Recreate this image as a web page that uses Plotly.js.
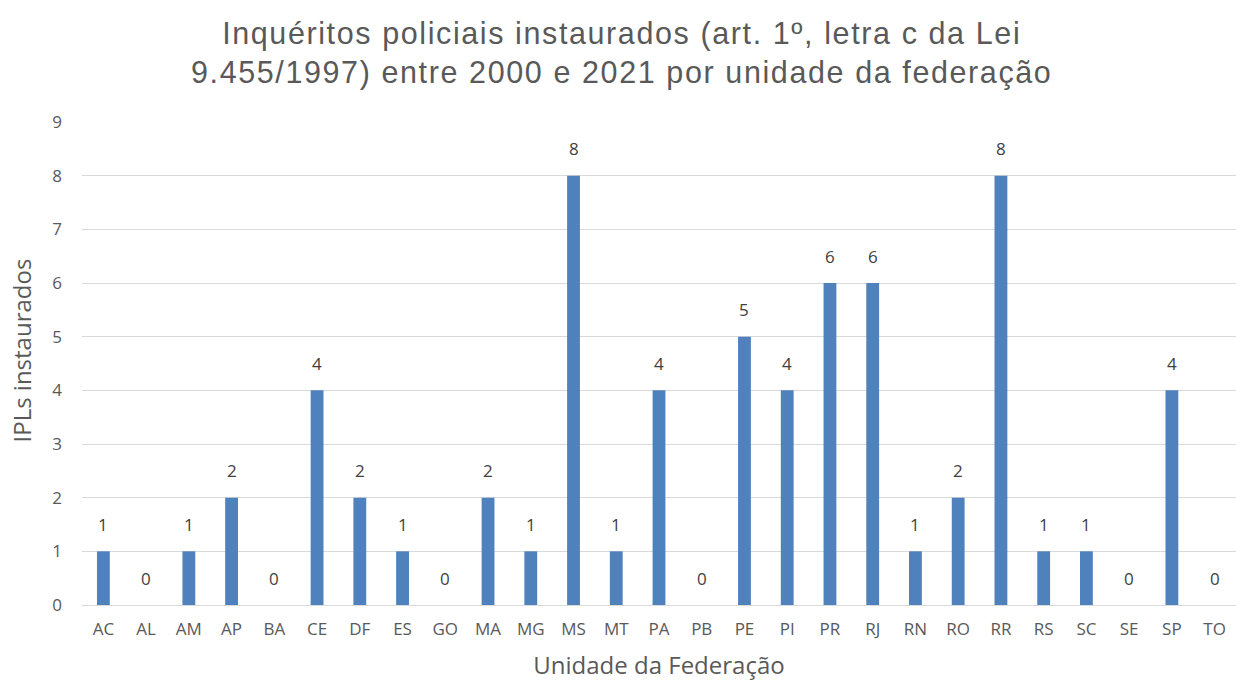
<!DOCTYPE html>
<html><head><meta charset="utf-8">
<script src="https://cdn.plot.ly/plotly-3.0.1.min.js"></script>
<style>html,body{margin:0;padding:0;background:#fff}#chart{width:1236px;height:682px}
#chart .gtitle{letter-spacing:1.6px}</style>
</head><body><div id="chart"></div>
<script>
const categories = ["AC","AL","AM","AP","BA","CE","DF","ES","GO","MA","MG","MS","MT","PA","PB","PE","PI","PR","RJ","RN","RO","RR","RS","SC","SE","SP","TO"];
const ipls = [1,0,1,2,0,4,2,1,0,2,1,8,1,4,0,5,4,6,6,1,2,8,1,1,0,4,0];
const yTicks = [0,1,2,3,4,5,6,7,8,9];

const tickFont = {family:"Open Sans, sans-serif", size:17, color:"#595959"};
const annotations = categories.map((c,i)=>({
  x:c, y:ipls[i], xref:'x', yref:'y', text:String(ipls[i]), showarrow:false,
  yshift:27, yanchor:'middle', font:{family:"Open Sans, sans-serif", size:17, color:"#404040"}
}));
annotations.push({
  text:"IPLs instaurados", xref:'paper', yref:'paper', x:0, y:0.5, xanchor:'center', yanchor:'middle',
  xshift:-61, yshift:13, textangle:-90, showarrow:false,
  font:{family:"Open Sans, sans-serif", size:24, color:"#595959"}
});

Plotly.newPlot('chart', [{
  type:'bar', x:categories, y:ipls,
  marker:{color:'#4F81BD'}, hoverinfo:'x+y'
}], {
  width:1236, height:682,
  margin:{l:82, r:0, t:122, b:77},
  paper_bgcolor:'#fff', plot_bgcolor:'#fff',
  bargap:0.7,
  showlegend:false,
  title:{text:"Inquéritos policiais instaurados (art. 1º, letra c da Lei<br>9.455/1997) entre 2000 e 2021 por unidade da federação",
    font:{family:"Liberation Sans, Arial, sans-serif", size:30.5, color:"#595959"},
    x:0.503, xanchor:'center', y:0.936, yanchor:'top'},
  xaxis:{type:'category', tickfont:tickFont, ticks:'', showgrid:false, zeroline:false,
    showline:false, ticklabelstandoff:12,
    title:{text:"Unidade da Federação", font:{family:"Open Sans, sans-serif", size:24, color:"#595959"}, standoff:18}},
  yaxis:{range:[0,9], tickvals:yTicks, tickfont:tickFont, ticks:'', showgrid:true, gridcolor:'#D9D9D9', gridwidth:1.3,
    zeroline:true, zerolinecolor:'#D9D9D9', zerolinewidth:1.3, showline:false, ticklabelstandoff:19},
  annotations:annotations
}, {displayModeBar:false});
</script></body></html>
